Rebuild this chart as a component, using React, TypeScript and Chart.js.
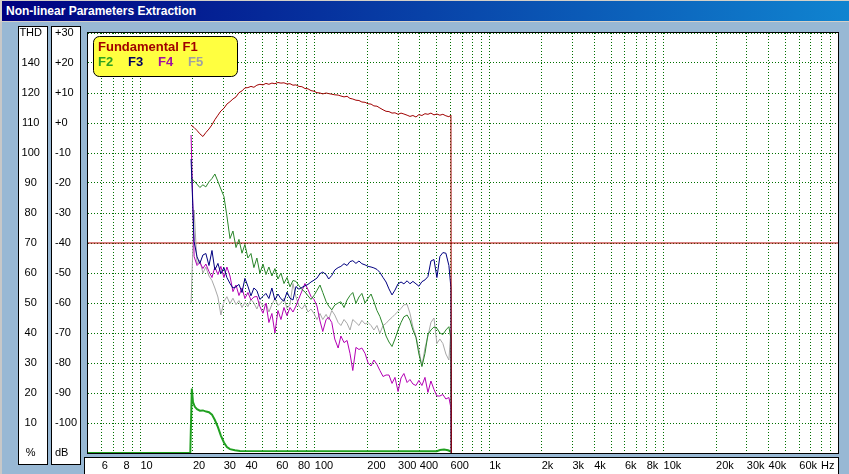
import React, { useEffect, useRef } from 'react';
import { Chart, registerables } from 'chart.js';

Chart.register(...registerables);

const TITLE = 'Non-linear Parameters Extraction';

// Frequencies (Hz) of the harmonic measurements
const freqs = [
  19.5, 20.3, 21.1, 21.9, 22.8, 23.7, 24.7, 25.7, 26.7, 27.8,
  28.9, 30.1, 31.3, 32.6, 33.9, 35.3, 36.7, 38.2, 39.7, 41.3,
  43.0, 44.7, 46.5, 48.4, 50.4, 52.4, 54.5, 56.7, 59.0, 61.4,
  63.9, 66.5, 69.2, 72.0, 74.9, 77.9, 81.0, 84.3, 87.7, 91.3,
  95.0, 98.8, 102.8, 107, 111, 116, 120, 125, 130, 136,
  141, 147, 153, 159, 165, 172, 179, 186, 194, 202,
  210, 218, 227, 236, 246, 256, 266, 277, 288, 300,
  312, 324, 338, 351, 365, 380, 395, 411, 428, 445,
  463, 482, 501, 521, 542, 564, 587, 603, 606,
];

// Fundamental F1 (dB)
const f1Db = [
  -0.7, -1.5, -2.5, -3.6, -4.5, -3.2, -2.0, -0.6, 1.1, 2.6,
  4.0, 4.9, 6.3, 7.1, 8.0, 8.7, 10.1, 10.7, 11.7, 11.8,
  12.2, 11.9, 12.6, 12.9, 12.7, 13.2, 12.9, 13.3, 13.1, 13.5,
  13.3, 13.4, 13.0, 13.1, 12.6, 12.7, 12.2, 12.1, 11.5, 11.4,
  10.8, 10.6, 10.1, 10.0, 9.7, 10.0, 9.8, 9.6, 9.4, 9.3,
  9.0, 8.7, 8.9, 8.2, 8.0, 7.6, 7.5, 7.0, 6.9, 6.4,
  6.3, 5.7, 5.6, 5.0, 4.4, 3.9, 3.8, 3.3, 3.4, 2.9,
  3.3, 3.0, 2.6, 2.2, 2.5, 2.0, 2.8, 2.5, 3.1, 2.9,
  3.3, 2.7, 3.0, 2.6, 2.9, 2.4, 2.1, 2.6, -110,
];

// F2 (dB)
const f2Db = [
  -18.4, -19.3, -20.4, -21.5, -20.6, -21.3, -19.6, -18.5, -17.0, -19.5,
  -22.0, -24.5, -31.0, -38.5, -36.0, -41.5, -38.8, -43.4, -40.5, -45.0,
  -43.5, -48.2, -45.0, -50.1, -47.0, -50.5, -48.0, -51.0, -48.5, -52.0,
  -50.0, -53.5, -51.5, -54.6, -52.5, -52.8, -54.2, -55.5, -56.3, -57.6,
  -58.8, -57.5, -55.8, -54.0, -56.5, -59.5, -61.0, -62.3, -60.7, -60.0,
  -59.6, -61.5, -59.0, -57.5, -56.5, -60.1, -58.0, -56.8, -60.0, -58.4,
  -57.0, -59.5, -62.5, -64.5, -67.5, -71.0, -73.0, -74.5, -72.0, -69.0,
  -66.5, -64.6, -64.0, -65.7, -69.0, -71.5, -77.0, -81.2, -76.8, -70.5,
  -69.0, -68.0, -68.4, -70.0, -70.5, -69.0, -67.9, -72.0, -110,
];

// F3 (dB)
const f3Db = [
  -12.0, -39.5, -44.6, -46.8, -44.0, -43.5, -47.5, -42.5, -49.0, -46.8,
  -50.2, -48.2, -51.5, -53.5, -55.0, -54.6, -53.8, -56.5, -51.8, -54.4,
  -57.6, -55.0, -55.9, -58.8, -57.8, -56.8, -58.5, -55.0, -59.0, -57.0,
  -58.6, -59.4, -56.4, -58.4, -59.0, -54.5, -55.4, -54.8, -54.3, -53.8,
  -53.0, -52.4, -51.7, -50.2, -49.7, -50.5, -52.0, -50.8, -49.0, -48.2,
  -47.8, -46.9, -47.5, -46.2, -45.9, -46.8, -46.0, -46.9, -47.3, -47.8,
  -48.0, -48.3, -48.8, -49.8, -51.5, -53.0, -55.3, -57.3, -55.7, -53.6,
  -53.0, -53.6, -52.6, -53.6, -52.8, -53.6, -54.4, -52.9, -52.3, -51.2,
  -46.0, -45.5, -51.5, -44.5, -43.2, -43.4, -47.5, -55.0, -110,
];

// F4 (dB)
const f4Db = [
  -4.0, -44.5, -47.5, -46.5, -48.5, -47.0, -49.5, -51.5, -48.0, -50.5,
  -47.8, -51.5, -48.0, -51.0, -56.2, -54.0, -57.5, -55.0, -58.5, -56.5,
  -59.0, -58.0, -57.8, -61.2, -63.4, -60.0, -66.5, -63.5, -70.0, -62.5,
  -65.5, -61.5, -64.2, -61.5, -63.0, -61.0, -58.5, -56.0, -53.5, -55.5,
  -57.8, -58.8, -61.0, -66.0, -69.5, -65.5, -64.8, -66.5, -72.0, -75.0,
  -71.0, -73.2, -72.5, -76.8, -82.5, -74.8, -75.5, -75.0, -76.8, -80.0,
  -81.0, -79.0, -80.5, -82.5, -84.5, -84.0, -84.0, -86.8, -84.8, -89.5,
  -85.0, -83.5, -86.5, -85.5, -87.0, -87.5, -85.8, -87.5, -84.8, -89.8,
  -86.0, -88.8, -91.0, -91.0, -90.5, -92.0, -91.5, -95.0, -110,
];

// F5 (dB)
const f5Db = [
  -60.0, -29.0, -47.0, -45.7, -50.0, -48.0, -51.0, -52.5, -55.0, -58.0,
  -64.0, -59.5, -57.9, -60.2, -58.4, -60.5, -59.2, -61.5, -59.8, -61.2,
  -58.8, -60.0, -62.0, -59.5, -61.0, -60.0, -63.0, -60.5, -58.5, -60.8,
  -60.0, -58.4, -61.8, -60.5, -53.5, -58.0, -61.0, -62.0, -60.5, -63.0,
  -62.0, -63.5, -65.5, -63.5, -65.5, -63.8, -65.5, -62.5, -64.0, -66.5,
  -67.5, -65.5, -66.8, -69.0, -65.5, -66.5, -67.5, -65.8, -67.0, -66.5,
  -67.5, -69.0, -67.5, -70.1, -67.5, -66.8, -65.7, -64.8, -63.8, -62.8,
  -61.8, -60.6, -60.5, -63.4, -68.0, -71.2, -75.5, -81.0, -75.0, -71.0,
  -66.5, -65.0, -73.5, -72.0, -73.5, -77.0, -79.0, -69.0, -110,
];

// THD (%)
const thdFreqs = [5, 19.3, 19.7, 20.0, 20.5, 21.1, 21.9, 22.8, 23.8, 24.7, 25.7, 26.7, 27.8, 28.9, 30.1, 31.3, 32.6, 34.8, 37.2, 500, 522, 550, 580, 603];
const thdPct = [0, 0, 21.5, 17.0, 15.4, 14.6, 14.1, 14.2, 13.8, 13.6, 12.8, 11.0, 8.6, 5.8, 3.5, 2.0, 1.3, 0.9, 0.7, 0.6, 1.0, 1.2, 0.9, 0.5];

// -40 dB reference line
const refFreqs = [5, 100000];
const refDb = [-40, -40];

// Axis ticks
const dbTickValues = [30, 20, 10, 0, -10, -20, -30, -40, -50, -60, -70, -80, -90, -100, -110];
const dbTickLabels = ['+30', '+20', '+10', '+0', '-10', '-20', '-30', '-40', '-50', '-60', '-70', '-80', '-90', '-100', 'dB'];
const thdTickValues = [140, 130, 120, 110, 100, 90, 80, 70, 60, 50, 40, 30, 20, 10, 0];
const thdTickLabels = ['THD', '140', '120', '110', '100', '90', '80', '70', '60', '50', '40', '30', '20', '10', '%'];
const xGridValues = [
  6, 7, 8, 9, 10, 20, 30, 40, 50, 60, 70, 80, 90,
  100, 200, 300, 400, 500, 600, 700, 800, 900,
  1000, 2000, 3000, 4000, 5000, 6000, 7000, 8000, 9000,
  10000, 20000, 30000, 40000, 50000, 60000, 70000, 80000, 90000,
];
const xLabelValues = [6, 8, 10, 20, 30, 40, 60, 80, 100, 200, 300, 400, 600, 1000, 2000, 3000, 4000, 6000, 8000, 10000, 20000, 30000, 40000, 60000, 80000];
const xLabelTexts = ['6', '8', '10', '20', '30', '40', '60', '80', '100', '200', '300', '400', '600', '1k', '2k', '3k', '4k', '6k', '8k', '10k', '20k', '30k', '40k', '60k', 'Hz'];

const FONT = '"Liberation Sans", Arial, sans-serif';
const BG = '#98b8d4';
const GRID = '#007000';

function toPoints(xs: number[], ys: number[]) {
  return xs.map((x, i) => ({ x, y: ys[i] }));
}

function lookup(values: number[], labels: string[], v: number) {
  const i = values.findIndex((t) => Math.abs(t - v) < 1e-6 * Math.max(1, Math.abs(t)));
  return i >= 0 ? labels[i] : '';
}

const framePlugin = {
  id: 'frame',
  beforeDraw(chart: any) {
    const ctx = chart.ctx;
    const a = chart.chartArea;
    ctx.save();
    ctx.fillStyle = BG;
    ctx.fillRect(0, 0, chart.width, chart.height);
    ctx.fillStyle = '#c8c8c8';
    ctx.fillRect(0, 0, 2, chart.height);
    ctx.lineWidth = 1;
    ctx.strokeStyle = '#000';
    const boxes = [
      [18, 26, 29, 438],
      [51, 26, 29, 438],
    ];
    for (const [x, y, w, h] of boxes) {
      ctx.fillStyle = '#fff';
      ctx.fillRect(x, y, w, h);
      ctx.strokeRect(x + 0.5, y + 0.5, w, h);
    }
    ctx.fillStyle = '#fff';
    ctx.fillRect(84, 457, a.right - 84 + 1, 30);
    ctx.strokeRect(84.5, 457.5, a.right - 84, 30);
    ctx.fillStyle = '#fff';
    ctx.fillRect(a.left - 1, a.top - 1, a.right - a.left + 2, a.bottom - a.top + 2);
    ctx.restore();
  },
  afterDraw(chart: any) {
    const ctx = chart.ctx;
    const a = chart.chartArea;
    ctx.save();
    ctx.strokeStyle = '#000';
    ctx.lineWidth = 1;
    ctx.strokeRect(a.left - 0.5, a.top - 0.5, a.right - a.left + 1, a.bottom - a.top + 1);
    const lx = 93.5, ly = 36.5, lw = 144, lh = 40, r = 6;
    ctx.beginPath();
    ctx.moveTo(lx + r, ly);
    ctx.arcTo(lx + lw, ly, lx + lw, ly + lh, r);
    ctx.arcTo(lx + lw, ly + lh, lx, ly + lh, r);
    ctx.arcTo(lx, ly + lh, lx, ly, r);
    ctx.arcTo(lx, ly, lx + lw, ly, r);
    ctx.closePath();
    ctx.fillStyle = '#ffff40';
    ctx.fill();
    ctx.stroke();
    const items = chart.data.datasets.filter((d: any) => d.legendColor);
    ctx.font = 'bold 13px ' + FONT;
    ctx.textBaseline = 'middle';
    ctx.textAlign = 'left';
    items.forEach((d: any, i: number) => {
      ctx.fillStyle = d.legendColor;
      if (i === 0) ctx.fillText(d.label, 98, 47.5);
      else ctx.fillText(d.label, 98 + 30 * (i - 1), 62);
    });
    ctx.restore();
  },
};

export default function App() {
  const ref = useRef<HTMLCanvasElement | null>(null);

  useEffect(() => {
    document.body.style.margin = '0';
    const canvas = ref.current!;
    const line = (label: string, xs: number[], ys: number[], color: string, order: number, extra: any = {}) => ({
      label,
      data: toPoints(xs, ys),
      borderColor: color,
      backgroundColor: color,
      borderWidth: 1,
      pointRadius: 0,
      pointHoverRadius: 0,
      tension: 0,
      fill: false,
      yAxisID: 'yDb',
      order,
      ...extra,
    });
    const chart = new Chart(canvas, {
      type: 'line',
      data: {
        datasets: [
          line('Fundamental F1', freqs, f1Db, '#a00000', 0, { legendColor: '#a00000' }),
          line('F2', freqs, f2Db, '#2a862a', 2, { legendColor: '#30a020' }),
          line('F3', freqs, f3Db, '#000080', 1, { legendColor: '#000060' }),
          line('F4', freqs, f4Db, '#b400b4', 3, { legendColor: '#a010a0' }),
          line('F5', freqs, f5Db, '#a8a8a8', 4, { legendColor: '#a0a0a0' }),
          line('THD', thdFreqs, thdPct, '#20a020', 5, { borderWidth: 2, yAxisID: 'yThd' }),
          line('-40 dB', refFreqs, refDb, '#b00000', 6),
        ] as any,
      },
      options: {
        responsive: false,
        maintainAspectRatio: false,
        devicePixelRatio: 1,
        animation: false,
        events: [],
        font: { family: FONT, size: 11 },
        layout: { padding: { top: 33, right: 11, bottom: 0, left: 0 } },
        plugins: { legend: { display: false }, tooltip: { enabled: false } },
        scales: {
          x: {
            type: 'logarithmic',
            position: 'bottom',
            min: 5,
            max: 100000,
            afterBuildTicks: (s: any) => {
              s.ticks = xGridValues.map((v) => ({ value: v }));
            },
            afterFit: (s: any) => {
              s.height = 21;
            },
            grid: { display: true, color: GRID, lineWidth: 1, drawTicks: false },
            border: { display: false, dash: [1, 2] },
            ticks: {
              autoSkip: false,
              maxRotation: 0,
              minRotation: 0,
              align: 'start',
              padding: 6,
              color: '#000',
              font: { family: FONT, size: 11 },
              callback: (v: any) => lookup(xLabelValues, xLabelTexts, Number(v)),
            },
          },
          yDb: {
            type: 'linear',
            position: 'left',
            weight: 1,
            min: -110,
            max: 30,
            afterBuildTicks: (s: any) => {
              s.ticks = dbTickValues.map((v) => ({ value: v }));
            },
            afterFit: (s: any) => {
              s.width = 33;
            },
            grid: { display: true, color: GRID, lineWidth: 1, drawTicks: false },
            border: { display: false, dash: [1, 2] },
            ticks: {
              autoSkip: false,
              crossAlign: 'far',
              padding: 0,
              color: '#000',
              font: { family: FONT, size: 11 },
              callback: (v: any) => lookup(dbTickValues, dbTickLabels, Number(v)),
            },
          },
          yThd: {
            type: 'linear',
            position: 'left',
            weight: 2,
            min: 0,
            max: 140,
            afterBuildTicks: (s: any) => {
              s.ticks = thdTickValues.map((v) => ({ value: v }));
            },
            afterFit: (s: any) => {
              s.width = 55;
            },
            grid: { display: false, drawTicks: false },
            border: { display: false },
            ticks: {
              autoSkip: false,
              crossAlign: 'center',
              padding: 13,
              color: '#000',
              font: { family: FONT, size: 11 },
              callback: (v: any) => lookup(thdTickValues, thdTickLabels, Number(v)),
            },
          },
        },
      } as any,
      plugins: [framePlugin],
    });
    return () => chart.destroy();
  }, []);

  return (
    <div style={{ position: 'relative', width: 849, height: 474, overflow: 'hidden', background: BG }}>
      <canvas ref={ref} width={849} height={474} style={{ position: 'absolute', left: 0, top: 0, width: 849, height: 474 }} />
      <div style={{ position: 'absolute', left: 0, top: 0, width: 849, height: 22, background: '#d4d0c8' }} />
      <div
        style={{
          position: 'absolute',
          left: 2,
          top: 1,
          width: 847,
          height: 20,
          background: 'linear-gradient(to right, #000080, #1084d0)',
          color: '#fff',
          font: 'bold 12px ' + FONT,
          lineHeight: '20px',
          paddingLeft: 4,
          boxSizing: 'border-box',
          whiteSpace: 'nowrap',
        }}
      >
        {TITLE}
      </div>
    </div>
  );
}
